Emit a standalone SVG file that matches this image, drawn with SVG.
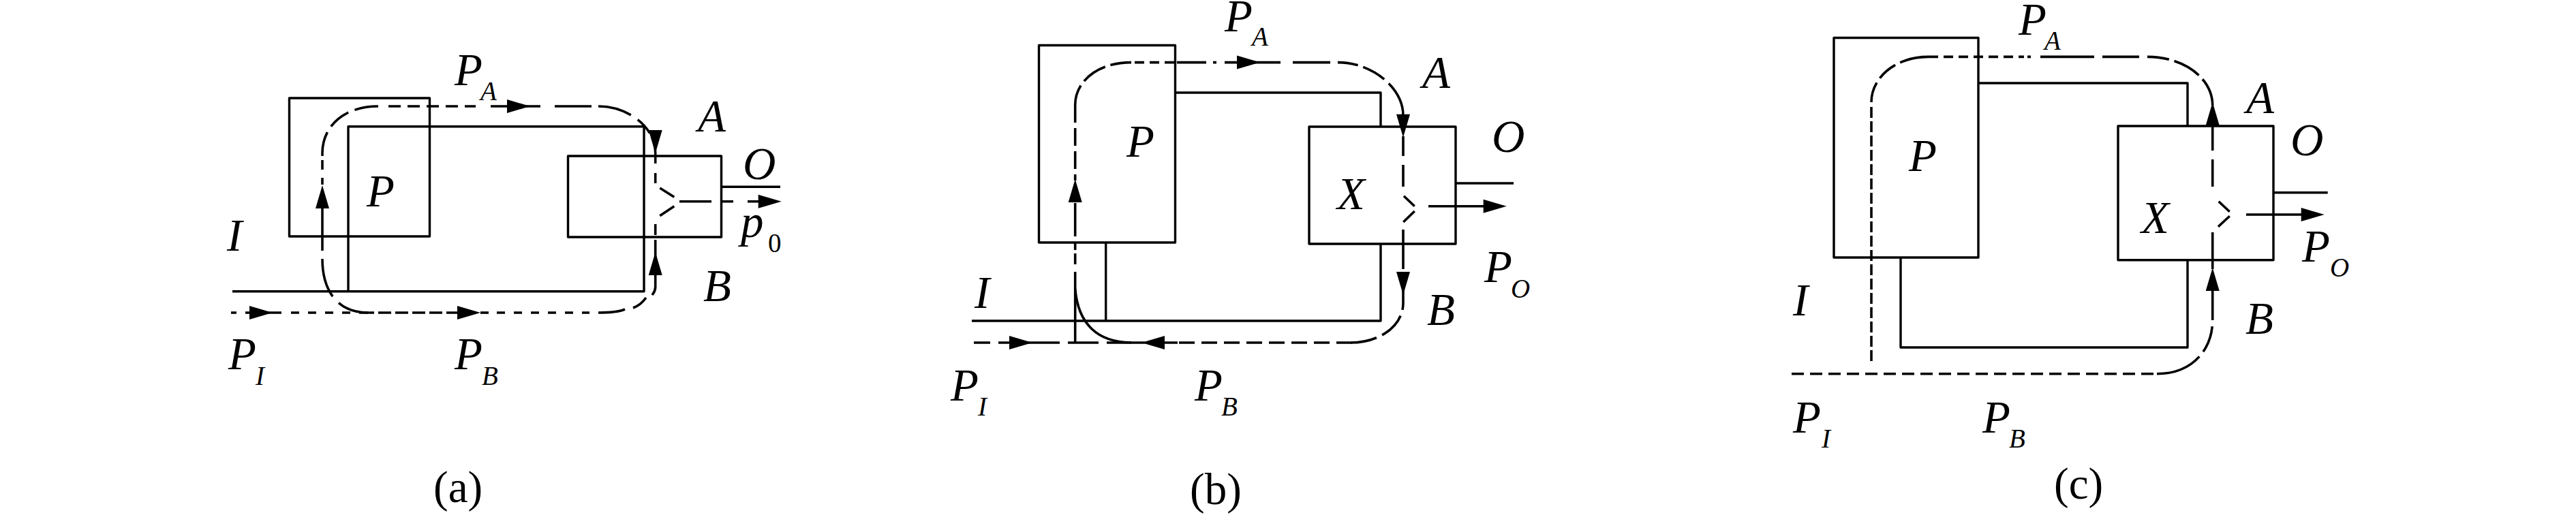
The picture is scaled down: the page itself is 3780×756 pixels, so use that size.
<svg xmlns="http://www.w3.org/2000/svg" width="3780" height="756" viewBox="0 0 3780 756">
<style>
.s{fill:none;stroke:#000;stroke-width:3.4;stroke-linejoin:round}
.d{fill:none;stroke:#000;stroke-width:3.6}
.t{font-family:"Liberation Serif","Times New Roman",serif;font-style:italic;font-size:67px;fill:#000}
.u{font-family:"Liberation Serif","Times New Roman",serif;font-style:italic;font-size:39px;fill:#000}
.n{font-family:"Liberation Serif","Times New Roman",serif;font-size:39px;fill:#000}
.c{font-family:"Liberation Serif","Times New Roman",serif;font-size:65px;fill:#000}
</style>
<defs><polygon id="ah" points="0,0 -34,-10 -34,10" fill="#000"/></defs>
<rect width="3780" height="756" fill="#fff"/>

<g id="panel-a">
<g id="a-P"><rect class="s" x="424.5" y="144" width="206" height="203"/><text class="t" x="538" y="303">P</text></g>
<g id="a-X"><rect class="s" x="833.5" y="229" width="225" height="119"/></g>
<g id="a-connectors">
<path class="s" d="M341 427.7H945V185.7H511V427.7M1058 274.3H1145"/>
<path class="d" d="M968.3 276L989.3 289.3M989.3 302.7L968.3 316.7"/>
<path class="d" d="M473 225C473 185 505 156 555 156" stroke-dasharray="32 10 33 10 200 10"/>
<path class="d" d="M473 225V272" stroke-dasharray="4 6 14 12 10 10"/>
<path class="d" d="M473 305V368"/>
<path class="d" d="M473 380C473 420 490 459 540 459" stroke-dasharray="58 13 200 10"/>
<path class="d" d="M570 156H698" stroke-dasharray="18 10"/>
<path class="d" d="M720 156H793M814 156H868"/>
<path class="d" d="M878 156C920 156 961.7 185 961.7 225" stroke-dasharray="50 12 27 8 200 10"/>
<path class="d" d="M961.7 225V345" stroke-dasharray="15 14 15 60 16 8 16 10"/>
<path class="d" d="M961.7 352V421C961.7 428 959 430 957 433"/>
<path class="d" d="M948 437Q940 448 929 452M917 454Q905 459 878 459"/>
<path class="d" d="M339 459H347M360 459H413"/>
<path class="d" d="M427 459H530" stroke-dasharray="12 13"/>
<path class="d" d="M530 459H700" stroke-dasharray="19 6"/>
<path class="d" d="M705 459H717"/>
<path class="d" d="M729 459H865" stroke-dasharray="12 13"/>
<path class="d" d="M997 295.7H1044M1058 295.7H1076M1097 295.7H1115"/>
<use href="#ah" transform="translate(400,459)"/>
<use href="#ah" transform="translate(705,459)"/>
<use href="#ah" transform="translate(778,156)"/>
<use href="#ah" transform="translate(473,272) rotate(-90)"/>
<use href="#ah" transform="translate(961.7,225) rotate(90)"/>
<use href="#ah" transform="translate(961.7,370) rotate(-90)"/>
<use href="#ah" transform="translate(1146.7,295.7)"/>
</g>
<g id="a-labels">
<text class="t" x="667" y="125">P</text><text class="u" x="705" y="147">A</text>
<text class="t" x="1024" y="193">A</text><text class="t" x="1090" y="263">O</text>
<text class="t" x="1087" y="348">p</text><text class="n" x="1127" y="370">0</text>
<text class="t" x="1032" y="442">B</text><text class="t" x="333" y="368">I</text>
<text class="t" x="335" y="542">P</text><text class="u" x="375" y="565">I</text>
<text class="t" x="667" y="542">P</text><text class="u" x="707" y="565">B</text>
<text class="c" x="636" y="737">(a)</text>
</g>
</g>

<g id="panel-b">
<g id="b-P"><rect class="s" x="1524.5" y="66.5" width="200" height="289.5"/><text class="t" x="1653" y="230">P</text></g>
<g id="b-X"><rect class="s" x="1921" y="186" width="215" height="172"/><text class="t" x="1962" y="307">X</text></g>
<g id="b-connectors">
<path class="s" d="M1725 136H2026V186M2026 358V471H1426M1622.7 356V471M2136 269H2221"/>
<path class="d" d="M2060 287.7L2075.7 302.7M2075.7 310L2059.3 326"/>
<path class="d" d="M1577.7 154C1577.7 120 1610 91.6 1660 91.6" stroke-dasharray="30 8 38 8 200 10"/>
<path class="d" d="M1577.7 154V265" stroke-dasharray="26 8"/>
<path class="d" d="M1577.7 298V347"/>
<path class="d" d="M1577.7 357V388" stroke-dasharray="10 5 16 5"/>
<path class="d" d="M1577.7 399V503"/>
<path class="d" d="M1577.7 424C1582 475 1610 502.7 1660 502.7"/>
<path class="d" d="M1665 91.6H1727" stroke-dasharray="14 8"/>
<path class="d" d="M1727 91.6H1770M1780 91.6H1785M1797 91.6H1879M1897 91.6H1952"/>
<path class="d" d="M1963 91.6C2015 91.6 2059 130 2059 170" stroke-dasharray="30 8 36 9 200 10"/>
<path class="d" d="M2059 200V229M2059 242V274M2059 337V395"/>
<path class="d" d="M2059 425V445C2059 478 2025 503 1982 503" stroke-dasharray="30 9 40 9 200 10"/>
<path class="d" d="M1429 503H1453M1465 503H1555M1567 503H1612M1624 503H1680M1700 503H1728"/>
<path class="d" d="M1730 503H1990" stroke-dasharray="23 10"/>
<path class="d" d="M2096 302.7H2180"/>
<use href="#ah" transform="translate(1515,503)"/>
<use href="#ah" transform="translate(1675,503) rotate(180)"/>
<use href="#ah" transform="translate(1849,91.6)"/>
<use href="#ah" transform="translate(1577.7,263) rotate(-90)"/>
<use href="#ah" transform="translate(2059,201.7) rotate(90)"/>
<use href="#ah" transform="translate(2059,433) rotate(90)"/>
<use href="#ah" transform="translate(2210.7,302.7)"/>
</g>
<g id="b-labels">
<text class="t" x="1797" y="46">P</text><text class="u" x="1837" y="66.5">A</text>
<text class="t" x="2087" y="129">A</text><text class="t" x="2189" y="223">O</text>
<text class="t" x="2178" y="414">P</text><text class="u" x="2217" y="437">O</text>
<text class="t" x="2094" y="477">B</text><text class="t" x="1430" y="452">I</text>
<text class="t" x="1395" y="588">P</text><text class="u" x="1435" y="610">I</text>
<text class="t" x="1753" y="588">P</text><text class="u" x="1792" y="610">B</text>
<text class="c" x="1746" y="740">(b)</text>
</g>
</g>

<g id="panel-c">
<g id="c-P"><rect class="s" x="2691" y="55.5" width="212" height="322.5"/><text class="t" x="2801" y="251">P</text></g>
<g id="c-X"><rect class="s" x="3108" y="185" width="228" height="196.7"/><text class="t" x="3142" y="342">X</text></g>
<g id="c-connectors">
<path class="s" d="M2903 122H3210V185M3210 382V510H2789V378M3336 282.7H3415.7"/>
<path class="d" d="M3255.7 295.7L3271.7 310.7M3271.7 317.3L3255 332.7"/>
<path class="d" d="M2746 150C2746 115 2780 83.4 2830 83.4" stroke-dasharray="30 8 30 8 200 10"/>
<path class="d" d="M2746 157V534" stroke-dasharray="16 5" stroke-width="3"/>
<path class="d" d="M2830 83.4H2970" stroke-dasharray="14 8"/>
<path class="d" d="M2975 83.4H2980M2994 83.4H3073M3085 83.4H3139"/>
<path class="d" d="M3151 83.4C3205 83.4 3246.7 115 3246.7 155" stroke-dasharray="32 8 42 8 200 10"/>
<path class="d" d="M3246.7 181V221M3246.7 234V274M3246.7 341V395"/>
<path class="d" d="M3246.7 420V470C3246.7 515 3215 548.7 3165 548.7" stroke-dasharray="50 9 40 9 200 10"/>
<path class="d" d="M2629 548.7H3165" stroke-dasharray="18 9"/>
<path class="d" d="M3296 315H3380"/>
<use href="#ah" transform="translate(3246.7,150) rotate(-90)"/>
<use href="#ah" transform="translate(3246.7,393) rotate(-90)"/>
<use href="#ah" transform="translate(3410.7,315)"/>
</g>
<g id="c-labels">
<text class="t" x="2962" y="51">P</text><text class="u" x="3000" y="73">A</text>
<text class="t" x="3296" y="166">A</text><text class="t" x="3361" y="228">O</text>
<text class="t" x="3378" y="384">P</text><text class="u" x="3419" y="406">O</text>
<text class="t" x="3295" y="490">B</text><text class="t" x="2631" y="463">I</text>
<text class="t" x="2631" y="635">P</text><text class="u" x="2673" y="657">I</text>
<text class="t" x="2909" y="635">P</text><text class="u" x="2948" y="657">B</text>
<text class="c" x="3014" y="732">(c)</text>
</g>
</g>
</svg>
